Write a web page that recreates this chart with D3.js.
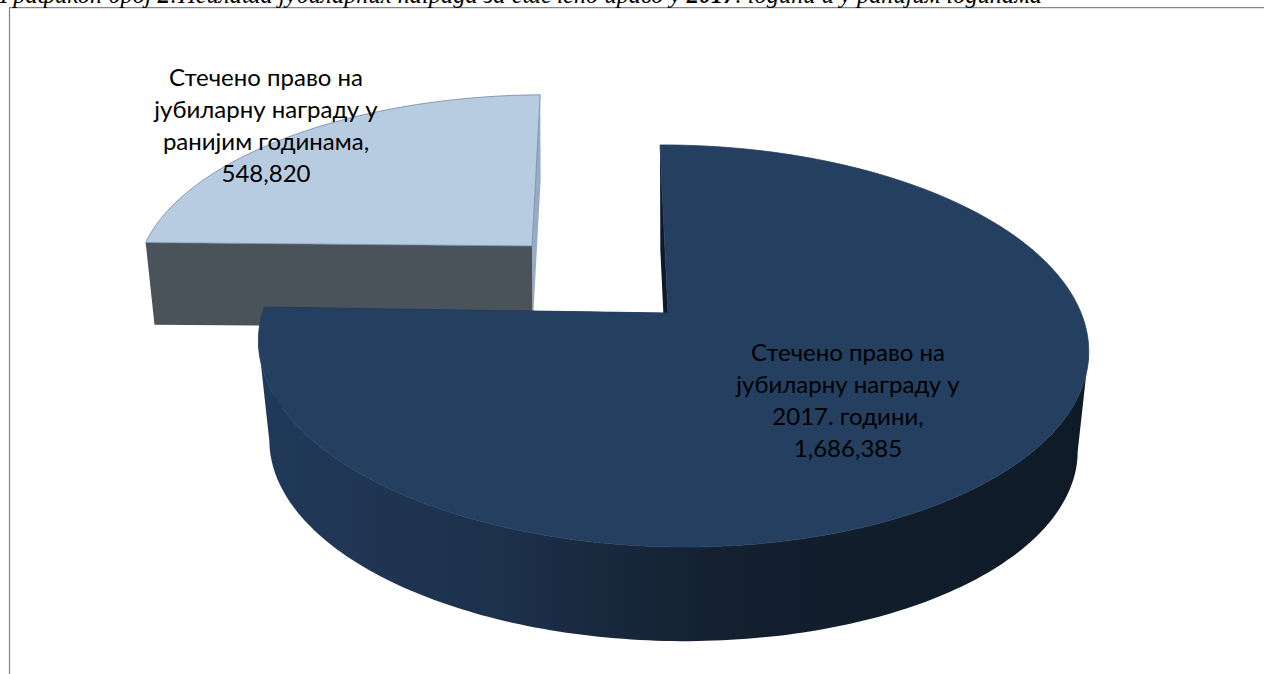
<!DOCTYPE html>
<html lang="sr">
<head>
<meta charset="UTF-8">
<title>Графикон број 2</title>
<script src="https://cdn.jsdelivr.net/npm/d3@7"></script>
<style>
  html, body { margin: 0; padding: 0; background: #fff; overflow: hidden; }
  text { font-family: Lato, "Open Sans", sans-serif; }
</style>
</head>
<body>
<svg id="main" width="1264" height="674"></svg>
<script>
const titleParts = ["Графикон број ", "2", ":Исплата јубиларних награда за стечено право у ", "2017", ". години и у ранијим годинама"];
const categories = ["Стечено право на јубиларну награду у 2017. години", "Стечено право на јубиларну награду у ранијим годинама"];
const values = [1686385, 548820];
const labelLines = [
  ["Стечено право на", "јубиларну награду у", "2017. години,", "1,686,385"],
  ["Стечено право на", "јубиларну награду у", "ранијим годинама,", "548,820"]
];

const svg = d3.select("svg#main");

// frame, cut off by the page on the right and the bottom
svg.append("path").attr("d", "M9.5,674V7.5H1264").attr("fill", "none").attr("stroke", "#868686").attr("stroke-width", 1.25);

const title = svg.append("text").attr("x", 0).attr("y", 3)
  .style("font-family", "'Liberation Serif'").style("font-size", "24.45px").style("font-style", "italic");
titleParts.forEach((t, i) => title.append("tspan").attr("font-weight", i % 2 ? "bold" : "normal").text(t));

const arcs = d3.pie().sort(null)(values);

// perspective of the tilted disc
const k = 0.164, m = -0.0095, a = 409.4, b = 195.6;

const slices = [
  { cx: 668, cy: 313, sx: 1, sy: 1, shear: -9.3, tilt: 0.6, vanish: [672, 4100], shrink: 0.0265,
    top: "#243f60", edge: "#243f60", firstFace: "#0f1a28", lastFace: "#0f1a28",
    stops: [[0, "#21395a"], [0.3, "#1c3049"], [0.55, "#14202f"], [1, "#0f1a27"]] },
  { cx: 532, cy: 246, sx: 0.958, sy: 0.9, shear: 10, tilt: -1.6, vanish: [560, 4100], shrink: 0.0213,
    top: "#b7cce1", edge: "#7088a8", firstFace: "#4b535a", lastFace: "#98abc4",
    stops: [[0, "#4b535a"], [1, "#4b535a"]] }
];

function project(s, theta) {
  const X = Math.sin(theta), Y = Math.cos(theta), w = 1 + k * Y + m * X;
  return [s.cx + s.sx * (a * X + s.shear * Y) / w, s.cy + s.sy * (s.tilt * X - b * Y) / w];
}
function drop(s, p) {
  return [p[0] + (s.vanish[0] - p[0]) * s.shrink, p[1] + (s.vanish[1] - p[1]) * s.shrink];
}

const defs = svg.append("defs");
const line = d3.line();
const order = [1, 0]; // far slice first

order.forEach(i => {
  const s = slices[i], d = arcs[i];
  const steps = d3.range(0, 1.0001, 1 / Math.round((d.endAngle - d.startAngle) * 180 / Math.PI));
  const angle = d3.scaleLinear().domain([0, 1]).range([d.startAngle, d.endAngle]);
  const rim = steps.map(t => project(s, angle(t)));
  const apex = [s.cx, s.cy];
  const first = rim[0], last = rim[rim.length - 1];
  const g = svg.append("g");

  const grad = defs.append("linearGradient").attr("id", "wall" + i)
    .attr("gradientUnits", "userSpaceOnUse").attr("x1", 260).attr("x2", 1090).attr("y1", 0).attr("y2", 0);
  s.stops.forEach(st => grad.append("stop").attr("offset", st[0]).attr("stop-color", st[1]));

  // cut faces at the centre
  g.append("path").attr("d", line([apex, last, drop(s, last), drop(s, apex)]) + "Z").attr("fill", s.lastFace);
  g.append("path").attr("d", line([apex, first, drop(s, first), drop(s, apex)]) + "Z").attr("fill", s.firstFace);

  // outer wall: only the part of the rim that faces us (rim runs right to left there)
  const front = rim.filter((p, j) => j > 0 && rim[j - 1][0] > p[0] || j < rim.length - 1 && p[0] > rim[j + 1][0]);
  if (front.length > 1) {
    g.append("path")
      .attr("d", line(front.concat(front.map(p => drop(s, p)).reverse())) + "Z")
      .attr("fill", "url(#wall" + i + ")");
  }

  // top
  g.append("path").attr("d", line([apex].concat(rim)) + "Z")
    .attr("fill", s.top).attr("stroke", s.edge).attr("stroke-width", 0.8);
});

const labelPos = [{ x: 848, y: 361 }, { x: 266, y: 86 }];
labelLines.forEach((lines, i) => {
  lines.forEach((l, j) => {
    svg.append("text").attr("x", labelPos[i].x).attr("y", labelPos[i].y + j * 32)
      .attr("text-anchor", "middle").style("font-size", "24px").attr("fill", "#000").text(l);
  });
});
</script>
</body>
</html>
